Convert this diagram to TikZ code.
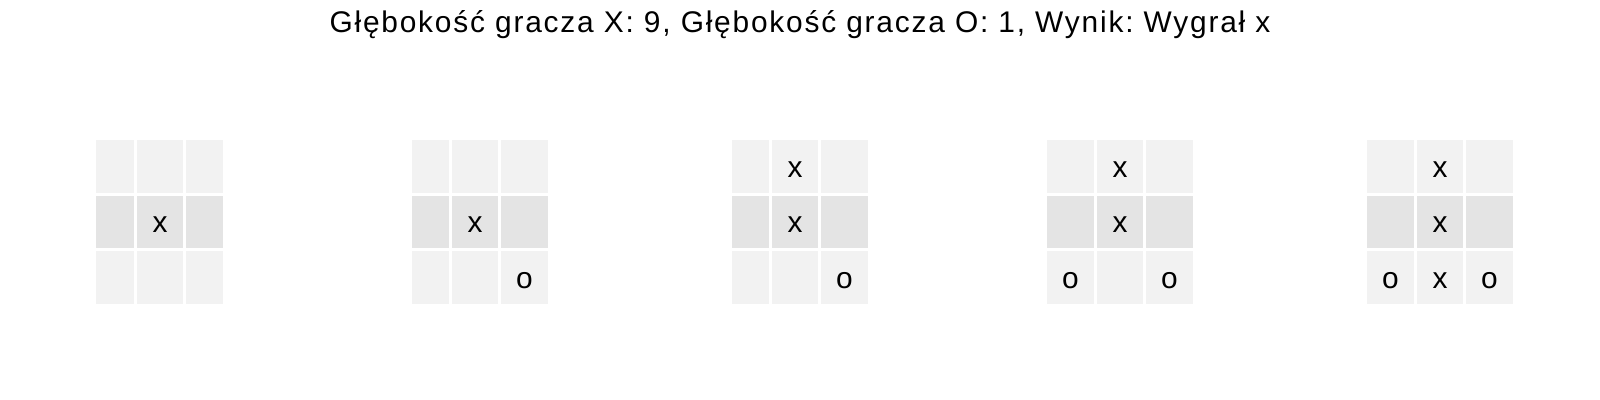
\documentclass[tikz,border=0pt]{standalone}
\usepackage{fontspec}
\setmainfont{Liberation Sans}
\newfontfamily\titlefont[LetterSpace=6]{Liberation Sans}
\usetikzlibrary{positioning}
\definecolor{cellpale}{RGB}{242,242,242}
\definecolor{celldeep}{RGB}{228,228,228}
\frenchspacing

\begin{document}
\begin{tikzpicture}[
  cell/.style={rectangle, inner sep=0pt, minimum height=1.05cm, fill=cellpale,
               text height=12pt, text depth=0pt,
               font=\fontsize{17}{17}\selectfont},
  slim/.style={cell, minimum width=0.75cm},
  core/.style={cell, minimum width=0.92cm},
  full/.style={cell, minimum width=0.94cm},
  shade/.style={fill=celldeep},
  ptitle/.style={font=\titlefont\fontsize{17}{17}\selectfont, anchor=base},
]
\path[use as bounding box, fill=white] (0,0) rectangle (32,8);

\node[ptitle] (title) at (16, 7.35) {Głębokość gracza X: 9, Głębokość gracza O: 1, Wynik: Wygrał x};

% --- board 1 ---
\begin{scope}[xshift=3.2cm]
\node[slim] (a00) at (-0.90, 4.67) {};
\node[core] (a01) at (0, 4.67) {};
\node[slim] (a02) at (0.89, 4.67) {};
\node[slim, shade] (a10) at (-0.90, 3.56) {};
\node[core, shade] (a11) at (0, 3.56) {x};
\node[slim, shade] (a12) at (0.89, 3.56) {};
\node[slim] (a20) at (-0.90, 2.45) {};
\node[core] (a21) at (0, 2.45) {};
\node[slim] (a22) at (0.89, 2.45) {};
\end{scope}

% --- board 2 ---
\begin{scope}[xshift=9.6cm]
\node[slim] (b00) at (-0.99, 4.67) {};
\node[core] (b01) at (-0.10, 4.67) {};
\node[full] (b02) at (0.89, 4.67) {};
\node[slim, shade] (b10) at (-0.99, 3.56) {};
\node[core, shade] (b11) at (-0.10, 3.56) {x};
\node[full, shade] (b12) at (0.89, 3.56) {};
\node[slim] (b20) at (-0.99, 2.45) {};
\node[core] (b21) at (-0.10, 2.45) {};
\node[full] (b22) at (0.89, 2.45) {o};
\end{scope}

% --- board 3 ---
\begin{scope}[xshift=16cm]
\node[slim] (c00) at (-0.99, 4.67) {};
\node[core] (c01) at (-0.10, 4.67) {x};
\node[full] (c02) at (0.89, 4.67) {};
\node[slim, shade] (c10) at (-0.99, 3.56) {};
\node[core, shade] (c11) at (-0.10, 3.56) {x};
\node[full, shade] (c12) at (0.89, 3.56) {};
\node[slim] (c20) at (-0.99, 2.45) {};
\node[core] (c21) at (-0.10, 2.45) {};
\node[full] (c22) at (0.89, 2.45) {o};
\end{scope}

% --- board 4 ---
\begin{scope}[xshift=22.4cm]
\node[full] (d00) at (-0.99, 4.67) {};
\node[core] (d01) at (0, 4.67) {x};
\node[full] (d02) at (0.99, 4.67) {};
\node[full, shade] (d10) at (-0.99, 3.56) {};
\node[core, shade] (d11) at (0, 3.56) {x};
\node[full, shade] (d12) at (0.99, 3.56) {};
\node[full] (d20) at (-0.99, 2.45) {o};
\node[core] (d21) at (0, 2.45) {};
\node[full] (d22) at (0.99, 2.45) {o};
\end{scope}

% --- board 5 ---
\begin{scope}[xshift=28.8cm]
\node[full] (e00) at (-0.99, 4.67) {};
\node[core] (e01) at (0, 4.67) {x};
\node[full] (e02) at (0.99, 4.67) {};
\node[full, shade] (e10) at (-0.99, 3.56) {};
\node[core, shade] (e11) at (0, 3.56) {x};
\node[full, shade] (e12) at (0.99, 3.56) {};
\node[full] (e20) at (-0.99, 2.45) {o};
\node[core] (e21) at (0, 2.45) {x};
\node[full] (e22) at (0.99, 2.45) {o};
\end{scope}

\end{tikzpicture}
\end{document}
